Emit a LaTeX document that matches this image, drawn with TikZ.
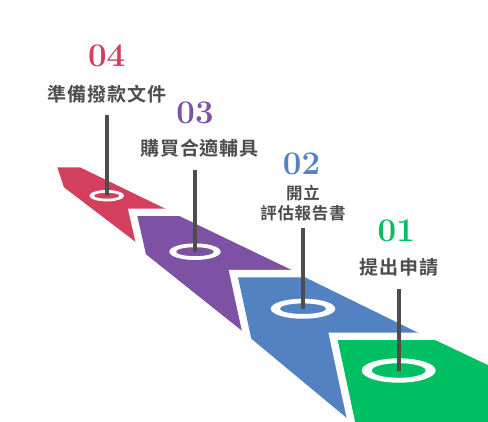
\documentclass[tikz,border=0pt]{standalone}
\usepackage{fontspec}
\newfontfamily\cjk{Noto Sans CJK TC}[BoldFont={Noto Sans CJK TC Bold}]
\definecolor{stepred}{HTML}{D43F5E}
\definecolor{steppurple}{HTML}{7D52A5}
\definecolor{stepblue}{HTML}{5282C1}
\definecolor{stepgreen}{HTML}{00BE62}
\definecolor{labgray}{HTML}{4D4D4D}
\begin{document}
\begin{tikzpicture}[x=1pt, y=-1pt,
    every node/.style={inner sep=0pt},
    num/.style={font=\fontsize{33}{33}\selectfont\bfseries\addfontfeature{FakeBold=1.2}},
    lab/.style={text=labgray, font=\cjk\bfseries\fontsize{19}{19}\selectfont\addfontfeature{LetterSpace=5}},
    band/.style={fill=#1, preaction={draw=white, line width=15pt, line join=miter}},
    ring/.style={fill=white, even odd rule},
    pole/.style={draw=labgray, line width=4.2pt}]
	\useasboundingbox (0,0) rectangle (488,421);
	\clip (0,0) rectangle (488,421);
	% bands, back to front
	\path[band=stepred] (57.3,167.3) -- (80,167.3) -- (170,211) -- (165,235) -- (141,246) -- (64,187.3) -- cycle;
	\path[band=steppurple] (137.3,216) -- (179.3,216) -- (300,274) -- (290,300) -- (246,334) -- (146,254.3) -- cycle;
	\path[band=stepblue] (238,277.3) -- (305,277.3) -- (430,338.6) -- (400,365) -- (348,419) -- (251.3,338.7) -- cycle;
	\path[band=stepgreen] (337.7,340) -- (435,340) -- (530,385) -- (530,440) -- (359,440) -- cycle;
	% rings
	\coordinate (r4) at (106.7,195.7);
	\coordinate (r3) at (195,251.7);
	\coordinate (r2) at (303,308.7);
	\coordinate (r1) at (398.7,370.5);
	\fill[ring] (r4) ellipse [x radius=17.3, y radius=5.7] (r4) ellipse [x radius=12.7, y radius=3];
	\fill[ring] (r3) ellipse [x radius=25.7, y radius=8.3] (r3) ellipse [x radius=19, y radius=4.5];
	\fill[ring] (r2) ellipse [x radius=32.3, y radius=10] (r2) ellipse [x radius=23.3, y radius=5.3];
	\fill[ring] (r1) ellipse [x radius=37, y radius=12.2] (r1) ellipse [x radius=27, y radius=7.3];
	% poles
	\coordinate (t4) at (106.7,115);
	\coordinate (t3) at (195,170);
	\coordinate (t2) at (303,228);
	\coordinate (t1) at (398.7,288.5);
	\draw[pole] (t4) -- (r4);
	\draw[pole] (t3) -- (r3);
	\draw[pole] (t2) -- (r2);
	\draw[pole] (t1) -- (r1);
	% labels
	\node[num, text=stepred] (n4) at (106.7,56.3) {04};
	\node[lab] (l4) at (107,94.5) {準備撥款文件};
	\node[num, text=steppurple] (n3) at (195,112.5) {03};
	\node[lab] (l3) at (199.5,148.5) {購買合適輔具};
	\node[num, text=stepblue] (n2) at (301.5,163.5) {02};
	\node[lab, align=center, font=\cjk\bfseries\fontsize{16.5}{20}\selectfont\addfontfeature{LetterSpace=4}] (l2) at (303,203.5) {開立\\評估報告書};
	\node[num, text=stepgreen] (n1) at (396.3,230.8) {01};
	\node[lab] (l1) at (399,267.5) {提出申請};
\end{tikzpicture}
\end{document}
